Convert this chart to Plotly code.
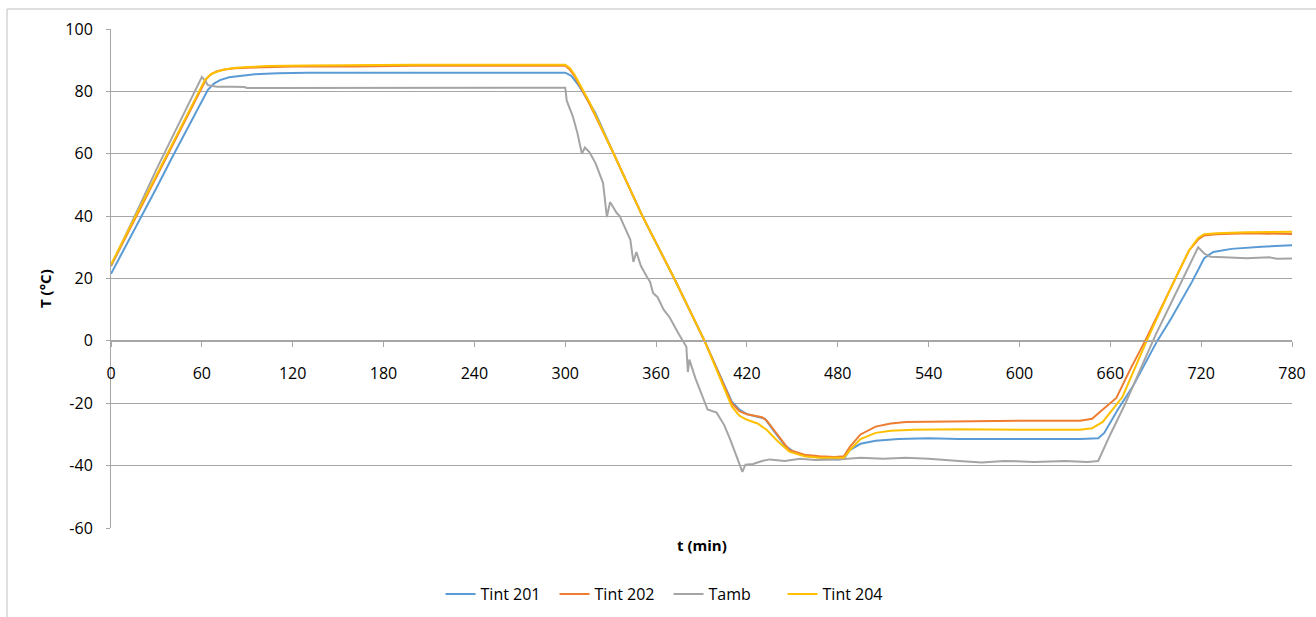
import plotly.graph_objects as go

# ---- data ----
t_201 = [0, 10, 20, 30, 40, 50, 60, 64, 68, 72, 78, 85, 95, 110, 130, 200, 300, 304, 308, 312, 320, 332, 351, 372, 392,
         410, 415, 420, 428, 432, 438, 445, 452, 460, 470, 480, 484, 488, 495, 505, 520, 540, 560, 600, 640, 652, 656,
         665, 675, 691, 700, 714, 718, 722, 728, 740, 760, 780]
T_201 = [21.5, 30.5, 40, 49, 58.5, 67.5, 77, 80.5, 82.5, 83.6, 84.5, 85, 85.5, 85.8, 86, 86, 86, 85, 82.5, 79.5, 73, 60, 40,
         20, 0, -19.5, -22, -23.5, -24.5, -25, -29, -33.5, -36, -37, -37.5, -38, -37.8, -35, -33, -32, -31.5, -31.2,
         -31.5, -31.5, -31.5, -31.2, -29.5, -22, -14.5, 0, 7, 19, 23, 26.5, 28.5, 29.5, 30.2, 30.7]

t_202 = [0, 10, 20, 30, 40, 50, 60, 63, 66, 70, 75, 82, 90, 100, 120, 160, 200, 250, 300, 303, 306, 310, 316, 332, 351,
         372, 392, 410, 415, 420, 425, 430, 433, 440, 448, 458, 468, 478, 484, 488, 495, 505, 515, 525, 560, 600, 640,
         648, 655, 664, 673, 683, 700, 712, 718, 722, 730, 750, 780]
T_202 = [24, 33.5, 43, 52.5, 62, 71.5, 81, 84, 85.5, 86.5, 87, 87.4, 87.6, 87.8, 88, 88, 88.2, 88.2, 88.2, 87, 85, 81.5,
         76, 60, 40, 20, 0, -20, -22.5, -23.5, -24, -24.5, -25.5, -30, -35, -36.5, -37, -37.2, -37, -34, -30, -27.5,
         -26.5, -26, -25.8, -25.6, -25.6, -25, -22, -18.3, -9.3, 0, 17, 29, 32.5, 33.8, 34.2, 34.5, 34.3]

t_amb = [0, 10, 20, 30, 40, 50, 56, 60, 62, 64, 67, 70, 80, 88, 90, 120, 200, 300, 301, 305, 308, 311, 313, 316, 320,
         325, 327.5, 329.6, 334, 336, 343, 345, 347, 350, 354, 356, 358, 361, 365, 369, 374.5, 380, 381, 382, 386, 391,
         394, 400, 405, 409, 414, 417, 419, 424, 430, 435, 445, 455, 465, 480, 495, 510, 525, 540, 560, 575, 590, 610,
         630, 645, 652, 660, 670, 680, 690, 700, 710, 718, 722, 726, 735, 750, 765, 770, 780]
T_amb = [24, 34, 44.5, 55, 65, 75, 80.5, 84.6, 83.5, 82, 81.7, 81.5, 81.5, 81.4, 81.1, 81.1, 81.2, 81.2, 77, 72, 66.7, 60,
         62, 60.5, 57, 50.6, 39.7, 44.5, 41, 40, 32.4, 25.3, 28.5, 24, 20.5, 19, 15.4, 14, 10, 7.5, 2.6, -1.9, -10, -6,
         -12, -18, -22, -23, -27, -31.7, -38, -42, -39.7, -39.5, -38.5, -38, -38.5, -37.8, -38.2, -38, -37.5, -37.8,
         -37.5, -37.8, -38.5, -39, -38.5, -38.8, -38.5, -38.8, -38.5, -30, -20, -9, 2, 12, 22, 30, 28, 27, 26.8, 26.5,
         26.8, 26.3, 26.4]

t_204 = [0, 10, 20, 30, 40, 50, 60, 62, 66, 70, 75, 81, 90, 103, 130, 200, 300, 303, 306, 310, 316, 332, 351, 372, 392,
         410, 415, 420, 427, 433, 440, 448, 458, 468, 478, 484, 488, 495, 505, 515, 530, 560, 600, 640, 648, 655, 668,
         684, 700, 712, 718, 722, 730, 750, 780]
T_204 = [24.5, 34, 43.5, 53, 62.5, 72, 81.5, 83.6, 85.5, 86.3, 87, 87.5, 87.8, 88.1, 88.3, 88.5, 88.5, 87.5, 85.5, 82,
         76.5, 60, 40, 20, 0, -21, -24, -25.3, -26.5, -28.5, -32, -35.5, -37, -37.5, -37.6, -37.5, -35, -31.5, -29.5,
         -28.8, -28.5, -28.3, -28.5, -28.5, -28, -26, -18, 0, 17, 29, 33, 34.2, 34.5, 34.8, 35]

series = [
    ("Tint 201", t_201, T_201, "#5B9BD5"),
    ("Tint 202", t_202, T_202, "#ED7D31"),
    ("Tamb", t_amb, T_amb, "#A5A5A5"),
    ("Tint 204", t_204, T_204, "#FFC000"),
]

x_ticks = list(range(0, 781, 60))
y_ticks = list(range(-60, 101, 20))

FONT = "Open Sans"
FS = 16
fig = go.Figure()
for name, tx, ty, col in series:
    fig.add_trace(go.Scatter(x=tx, y=ty, mode="lines", name=name,
                             line=dict(color=col, width=2)))

W, H = 1316, 617
ml, mr, mt, mb = 111, 24, 29, 89
pw, ph = W - ml - mr, H - mt - mb

fig.update_layout(
    width=W, height=H,
    margin=dict(l=ml, r=mr, t=mt, b=mb, autoexpand=False),
    paper_bgcolor="white", plot_bgcolor="white",
    font=dict(family=FONT, size=FS, color="#000000"),
    showlegend=True,
    legend=dict(orientation="h", xref="container", yref="container",
                x=0.508, y=1 - 594 / H, xanchor="center", yanchor="middle",
                entrywidth=69, entrywidthmode="pixels",
                font=dict(family=FONT, size=FS), tracegroupgap=0),
    xaxis=dict(range=[0, 780], tickvals=x_ticks, ticktext=[str(v) for v in x_ticks],
               showgrid=False, zeroline=False, showline=True, linecolor="#A6A6A6", linewidth=1,
               ticks="outside", ticklen=5, tickcolor="#A6A6A6",
               anchor="free", position=60 / 160, ticklabelstandoff=13,
               tickfont=dict(family=FONT, size=FS)),
    yaxis=dict(range=[-60, 100], tickvals=y_ticks, ticktext=[str(v) for v in y_ticks],
               showgrid=True, gridcolor="#A6A6A6", gridwidth=1, zeroline=False,
               showline=True, linecolor="#A6A6A6", linewidth=1,
               ticks="outside", ticklen=4, tickcolor="#A6A6A6", ticklabelstandoff=10,
               tickfont=dict(family=FONT, size=FS)),
)

fig.add_annotation(text="<b>t (min)</b>", xref="paper", yref="paper",
                   x=0.5, y=(528 - 545) / ph, xanchor="center", yanchor="middle",
                   showarrow=False, font=dict(family=FONT, size=15))
fig.add_annotation(text="<b>T (°C)</b>", xref="paper", yref="paper",
                   x=(45 - ml) / pw, y=(528 - 289) / ph, xanchor="center", yanchor="middle",
                   textangle=-90, showarrow=False, font=dict(family=FONT, size=15))

# outer chart border
fig.add_shape(type="rect", xref="paper", yref="paper",
              x0=(7 - ml) / pw, x1=(1330 - ml) / pw, y0=(528 - 640) / ph, y1=(528 - 9) / ph,
              line=dict(color="#BFBFBF", width=1), fillcolor="rgba(0,0,0,0)", layer="below")

fig.write_html("out.html", config={"displayModeBar": False},
               post_script="document.body.style.margin='0';document.body.style.overflow='hidden';")
